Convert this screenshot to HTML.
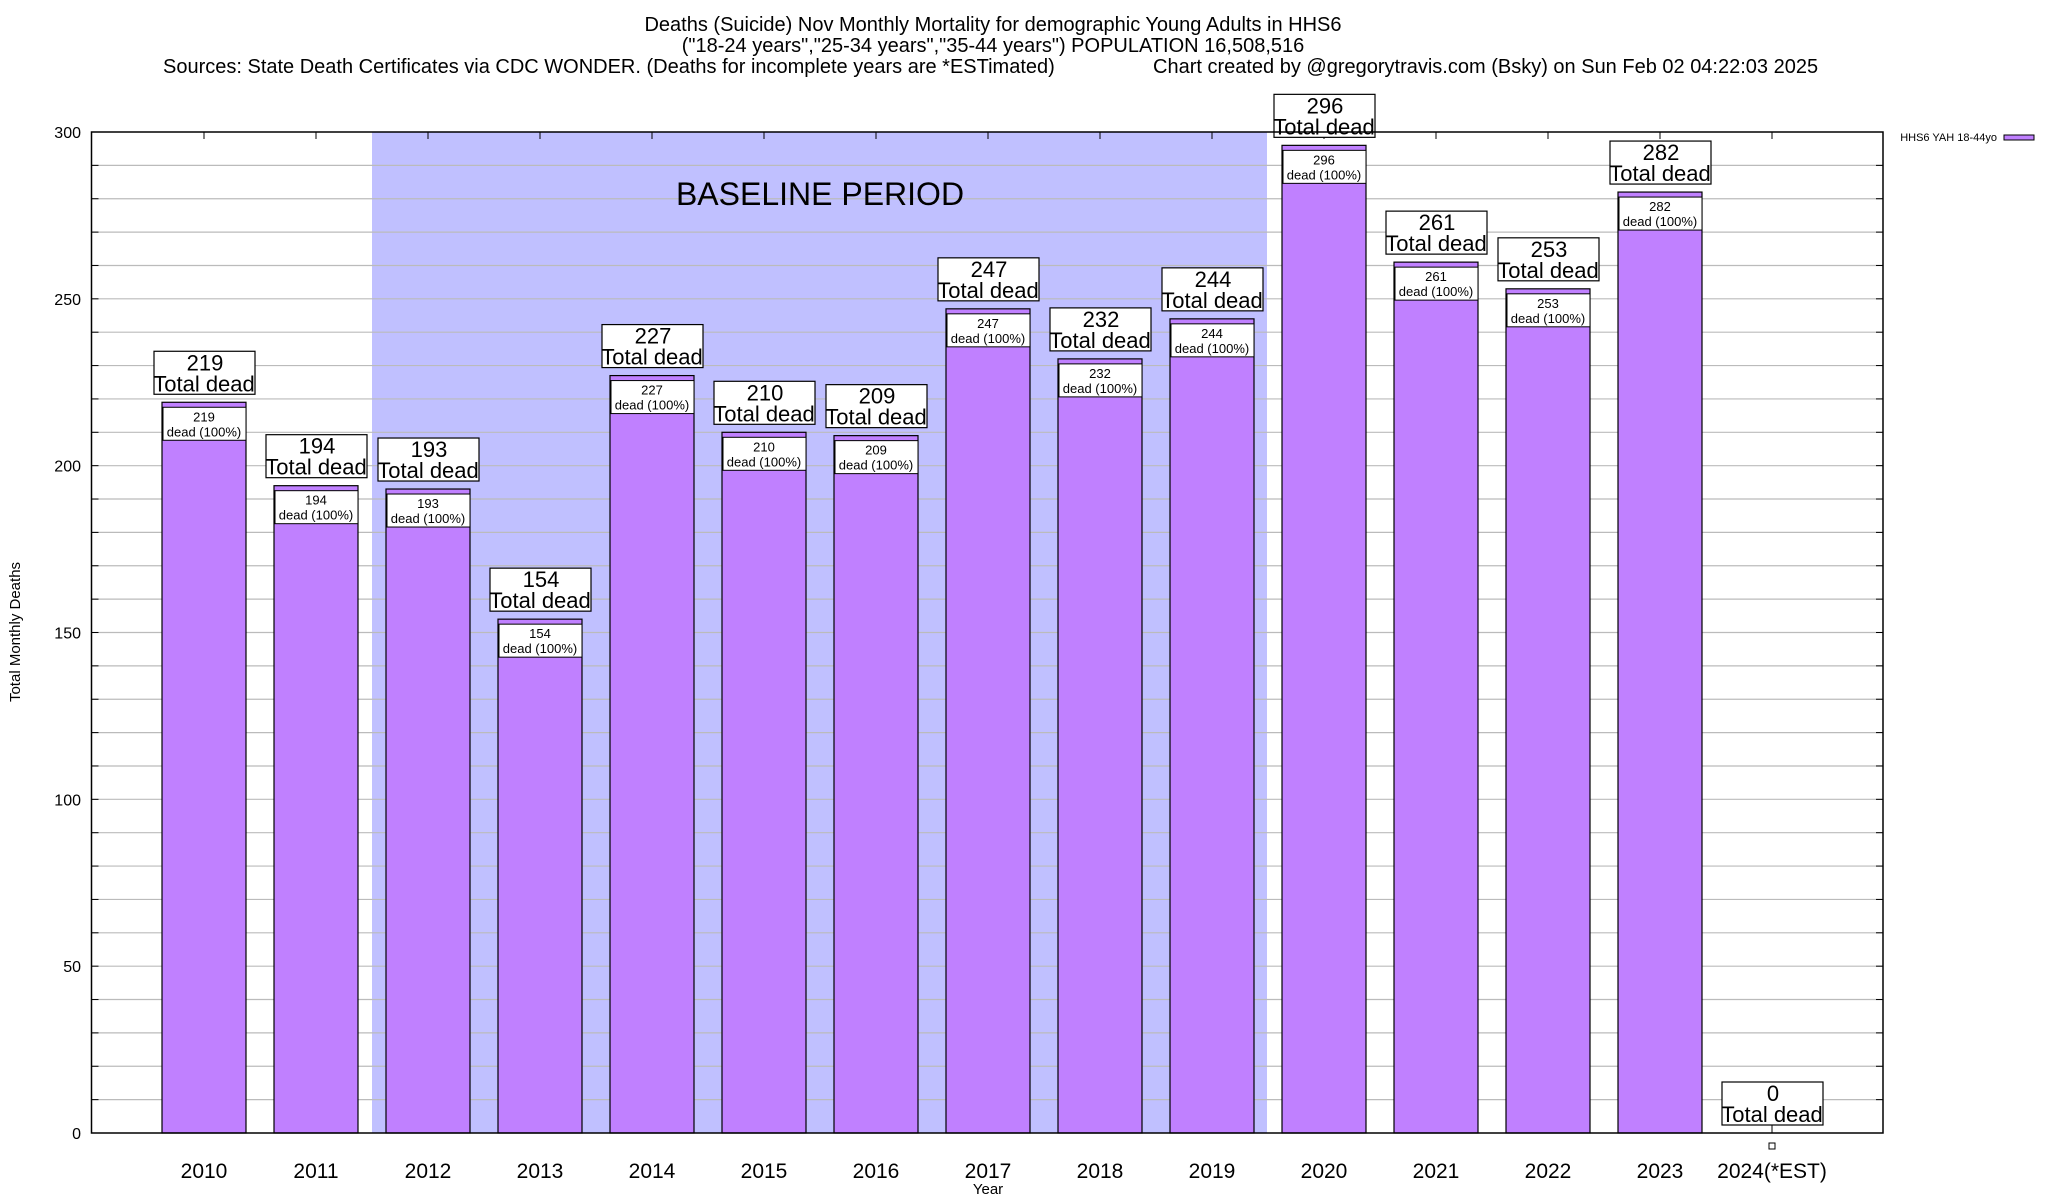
<!DOCTYPE html>
<html><head><meta charset="utf-8"><style>
html,body{margin:0;padding:0;background:#fff}
svg{display:block;font-family:"Liberation Sans",sans-serif}
</style></head><body>
<svg id="chart" width="2048" height="1200" viewBox="0 0 2048 1200">
<g font-size="20" fill="#000">
<text x="993" y="31" text-anchor="middle">Deaths (Suicide) Nov Monthly Mortality for demographic Young Adults in HHS6</text>
<text x="993" y="52" text-anchor="middle">("18-24 years","25-34 years","35-44 years") POPULATION 16,508,516</text>
<text x="163" y="73">Sources: State Death Certificates via CDC WONDER. (Deaths for incomplete years are *ESTimated)</text>
<text x="1153" y="73">Chart created by @gregorytravis.com (Bsky) on Sun Feb 02 04:22:03 2025</text>
</g>
<rect x="372" y="132" width="895" height="1001" fill="#c0c0ff"/>
<g id="grid"></g>
<text x="820" y="205" text-anchor="middle" font-size="32">BASELINE PERIOD</text>
<g id="bars"></g>
<rect x="91.5" y="132" width="1791.5" height="1001" fill="none" stroke="#000" stroke-width="1.5"/>
<text x="20" y="632" transform="rotate(-90 20 632)" text-anchor="middle" font-size="15">Total Monthly Deaths</text>
<text x="988" y="1194" text-anchor="middle" font-size="15">Year</text>
<g>
<text x="1997" y="141" text-anchor="end" font-size="11">HHS6 YAH 18-44yo</text>
<rect x="2004" y="135" width="30" height="5" fill="#c080ff" stroke="#000" stroke-width="1"/>
</g>
</svg>
<script>
const categories=["2010","2011","2012","2013","2014","2015","2016","2017","2018","2019","2020","2021","2022","2023","2024(*EST)"];
const values=[219,194,193,154,227,210,209,247,232,244,296,261,253,282,0];
const yTicks=[0,50,100,150,200,250,300];
const NS="http://www.w3.org/2000/svg";
const X0=204,DX=112,BW=84,YT=132,YB=1133,YMAX=300,XL=91.5,XR=1883;
function xs(i){return X0+i*DX;}
function ys(v){return YB-(v/YMAX)*(YB-YT);}
function mk(tag,attrs,parent,text){const e=document.createElementNS(NS,tag);for(const k in attrs)e.setAttribute(k,attrs[k]);if(text!==undefined)e.textContent=text;parent.appendChild(e);return e;}
const grid=document.getElementById('grid');
for(let v=10;v<YMAX;v+=10){
 const l=mk('line',{x1:XL,x2:XR,y1:ys(v),y2:ys(v),stroke:'#bbb','stroke-width':1.2},grid);
 
 
 mk('line',{x1:XL,x2:XL+7,y1:ys(v),y2:ys(v),stroke:'#000'},grid);
 mk('line',{x1:XR-7,x2:XR,y1:ys(v),y2:ys(v),stroke:'#000'},grid);
}
yTicks.forEach(v=>{
 const t=mk('text',{x:81,y:ys(v)+6,'text-anchor':'end','font-size':16},grid,String(v));
 
 
});
categories.forEach((c,i)=>{mk('line',{x1:xs(i),x2:xs(i),y1:YT,y2:YT+7,stroke:'#000'},grid);});
const bars=document.getElementById('bars');
values.forEach((v,i)=>{
 const cx=xs(i),top=ys(v);
 if(v>0){
  const r=mk('rect',{x:cx-BW/2,y:top,width:BW,height:YB-top,fill:'#c080ff',stroke:'#000','stroke-width':1.2},bars);
  
  
  const ib=mk('rect',{x:cx-41,y:top+5,width:83,height:33,fill:'#fff',stroke:'#000','stroke-width':1},bars);
  
  
  mk('text',{x:cx,y:top+19,'text-anchor':'middle','font-size':13},bars,String(v));
  mk('text',{x:cx,y:top+34,'text-anchor':'middle','font-size':13},bars,'dead (100%)');
 } else {
  mk('line',{x1:cx,x2:cx,y1:YB-8,y2:YB,stroke:'#000'},bars);
  mk('rect',{x:cx-3,y:1143,width:6,height:6,fill:'#fff',stroke:'#000'},bars);
 }
 const bt=top-51;
 const ob=mk('rect',{x:cx-50,y:bt,width:101,height:43,fill:'#fff',stroke:'#000','stroke-width':1.2},bars);
 
 
 mk('text',{x:cx+1,y:bt+19,'text-anchor':'middle','font-size':22},bars,String(v));
 mk('text',{x:cx,y:bt+40,'text-anchor':'middle','font-size':22},bars,'Total dead');
 const xl=mk('text',{x:cx,y:1178,'text-anchor':'middle','font-size':21},bars,categories[i]);
 
 
});
</script>
</body></html>
